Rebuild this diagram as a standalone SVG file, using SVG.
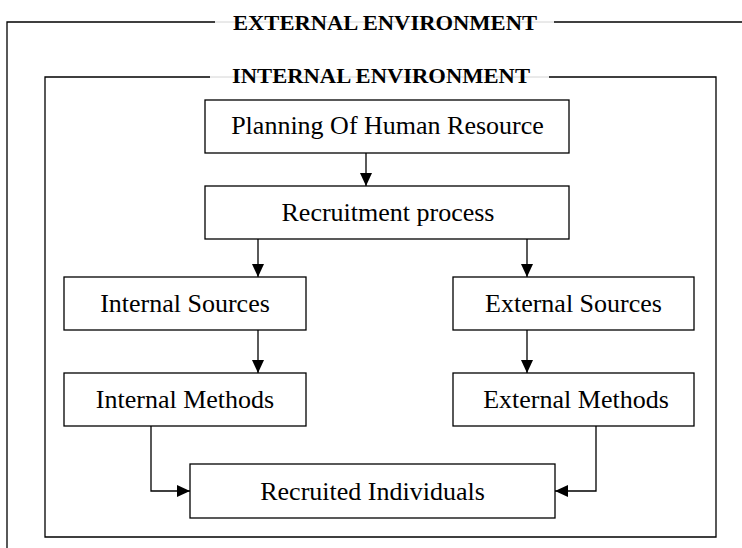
<svg xmlns="http://www.w3.org/2000/svg" width="742" height="548" viewBox="0 0 742 548">
<style>
  .frame{fill:none;stroke:#000;stroke-width:1.3}
  .faint{stroke:#d4d4d4;stroke-width:1}
  .box{fill:#fff;stroke:#000;stroke-width:1.3}
  .lbl{font-family:"Liberation Serif","Times New Roman",serif;font-size:26px;fill:#000;text-anchor:middle}
  .ttl{font-family:"Liberation Serif","Times New Roman",serif;font-size:22px;font-weight:bold;fill:#000}
  .conn{fill:none;stroke:#000;stroke-width:1.3}
</style>
<defs>
  <marker id="ah" markerUnits="userSpaceOnUse" markerWidth="13" markerHeight="12" refX="13" refY="6" orient="auto">
    <path d="M0,0 L13,6 L0,12 z" fill="#000"/>
  </marker>
</defs>
<rect width="742" height="548" fill="#fff"/>
<g id="external-environment">
  <line class="faint" x1="215" y1="22" x2="554" y2="22"/>
  <path class="frame" d="M215,22 H7 V548"/>
  <path class="frame" d="M554,22 H742"/>
  <text class="ttl" x="233" y="30" textLength="304" lengthAdjust="spacingAndGlyphs">EXTERNAL ENVIRONMENT</text>
</g>
<g id="internal-environment">
  <line class="faint" x1="210" y1="77" x2="549" y2="77"/>
  <path class="frame" d="M210,77 H45 V537 H716 V77 H549"/>
  <text class="ttl" x="232" y="83" textLength="298" lengthAdjust="spacingAndGlyphs">INTERNAL ENVIRONMENT</text>
</g>
<g id="planning">
  <rect class="box" x="205" y="100" width="364" height="53"/>
  <text class="lbl" x="387.5" y="134">Planning Of Human Resource</text>
</g>
<g id="recruitment">
  <rect class="box" x="205" y="186" width="364" height="53"/>
  <text class="lbl" x="388" y="221">Recruitment process</text>
</g>
<g id="internal-sources">
  <rect class="box" x="64" y="277" width="242" height="53"/>
  <text class="lbl" x="185" y="312">Internal Sources</text>
</g>
<g id="external-sources">
  <rect class="box" x="453" y="277" width="241" height="53"/>
  <text class="lbl" x="573.5" y="312">External Sources</text>
</g>
<g id="internal-methods">
  <rect class="box" x="64" y="373" width="242" height="53"/>
  <text class="lbl" x="185" y="408">Internal Methods</text>
</g>
<g id="external-methods">
  <rect class="box" x="453" y="373" width="241" height="53"/>
  <text class="lbl" x="576" y="408">External Methods</text>
</g>
<g id="recruited">
  <rect class="box" x="190" y="464" width="365" height="54"/>
  <text class="lbl" x="372.5" y="500">Recruited Individuals</text>
</g>
<g id="connectors">
  <path class="conn" d="M366,153 V186" marker-end="url(#ah)"/>
  <path class="conn" d="M258,239 V277" marker-end="url(#ah)"/>
  <path class="conn" d="M527,239 V277" marker-end="url(#ah)"/>
  <path class="conn" d="M258,330 V373" marker-end="url(#ah)"/>
  <path class="conn" d="M527,330 V373" marker-end="url(#ah)"/>
  <path class="conn" d="M151,426 V491 H190" marker-end="url(#ah)"/>
  <path class="conn" d="M596,426 V491 H555" marker-end="url(#ah)"/>
</g>
</svg>
